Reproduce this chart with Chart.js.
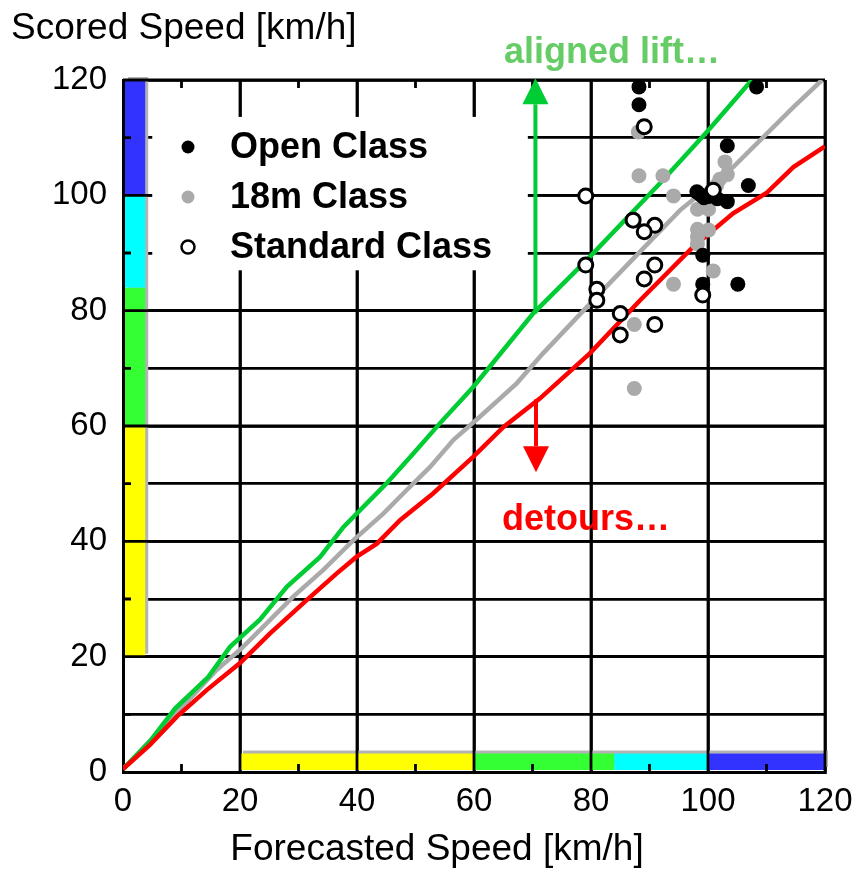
<!DOCTYPE html>
<html>
<head>
<meta charset="utf-8">
<script src="https://cdn.jsdelivr.net/npm/chart.js@4.4.0/dist/chart.umd.min.js"></script>
<style>
  html, body { margin: 0; padding: 0; background: #fff; }
</style>
</head>
<body>
<canvas id="speedChart" width="852" height="869"></canvas>
<script>
// Scatter data (forecasted speed, scored speed)
const openX = [88.2, 88.2, 108.3, 103.3, 106.9, 98.1, 98.7, 99.3, 100.1, 101.6, 103.3, 99.1, 99.1, 105.1];
const openY = [118.8, 115.7, 118.8, 108.6, 101.7, 100.6, 100.1, 99.6, 99.8, 99.4, 98.9, 89.6, 84.6, 84.6];

const m18X = [88.1, 88.2, 92.3, 94.1, 102.9, 103.3, 102.0, 101.5, 98.2, 100.1, 98.2, 100.1, 98.2, 98.2, 100.9, 94.1, 87.4, 87.4];
const m18Y = [111.0, 103.4, 103.4, 99.9, 105.8, 103.6, 102.8, 101.8, 97.6, 97.6, 94.1, 94.0, 92.8, 91.6, 86.9, 84.6, 77.6, 66.5];

const stdX = [89.1, 79.1, 100.9, 87.2, 90.9, 89.1, 79.1, 90.9, 89.1, 81.0, 81.0, 99.1, 85.0, 90.9, 85.0];
const stdY = [111.9, 99.9, 100.9, 95.7, 94.8, 93.7, 87.9, 87.9, 85.5, 83.7, 81.8, 82.7, 79.5, 77.6, 75.8];

// Reference curves
const greenX = [0, 4.6, 8.9, 14.6, 18.3, 23.4, 28, 33.7, 37.7, 45, 49.6, 54.2, 59.9, 70.1, 79.3, 91.8, 99.8, 107.5];
const greenY = [0.5, 5.3, 11, 16.5, 21.7, 26.4, 32.1, 37.3, 42.5, 50, 55.2, 60.5, 66.8, 79.5, 88.8, 102.1, 111, 120];

const grayX = [0, 9.7, 16, 20, 24, 29.1, 34.2, 39.4, 44.5, 48.5, 52.5, 56.5, 61, 67.3, 71.8, 81.5, 95.2, 104.3, 114.6, 119.5];
const grayY = [0.5, 10.8, 17.7, 21.2, 25.2, 30.4, 35, 40.2, 44.8, 48.9, 52.9, 57.6, 61.6, 67.4, 72.6, 83, 97.4, 104.9, 115.3, 120];

const redX = [0, 4.6, 9.2, 14.3, 20, 25.1, 31.4, 36.5, 39.9, 43.4, 47.4, 53, 59.9, 65, 71.3, 79.8, 88.4, 97.5, 104.3, 110, 114.6, 120];
const redY = [0.5, 4.7, 9.6, 14.2, 18.9, 24, 29.8, 34.4, 37.3, 39.6, 43.7, 48.3, 54.7, 59.8, 64.8, 72.6, 81.8, 91.1, 96.9, 100.4, 104.9, 108.5];

// Speed bands along both axes
const bandFrom = [20, 60, 84, 100];
const bandTo = [60, 84, 100, 120];
const bandColors = ["#ffff00", "#33ff33", "#00ffff", "#3333ff"];

const FONT = "'Liberation Sans', Arial, sans-serif";

function pts(xs, ys) {
  return xs.map((v, i) => ({ x: v, y: ys[i] }));
}

function arrow(ctx, x, yFrom, yTip, color) {
  const dir = yTip < yFrom ? 1 : -1;
  const head = 26;
  ctx.strokeStyle = color;
  ctx.fillStyle = color;
  ctx.lineWidth = 4;
  ctx.beginPath();
  ctx.moveTo(x, yFrom);
  ctx.lineTo(x, yTip + dir * head);
  ctx.stroke();
  ctx.beginPath();
  ctx.moveTo(x, yTip);
  ctx.lineTo(x - 13, yTip + dir * head);
  ctx.lineTo(x + 13, yTip + dir * head);
  ctx.closePath();
  ctx.fill();
}

const decorations = {
  id: "decorations",
  beforeDatasetsDraw(chart) {
    const { ctx, chartArea: area, scales: { x, y } } = chart;
    ctx.save();

    // left bar
    const lx0 = x.getPixelForValue(0) + 2;
    const lx1 = x.getPixelForValue(3.8);
    ctx.fillStyle = "#b4b4b4";
    ctx.fillRect(lx0 + 3, y.getPixelForValue(120) - 3, lx1 - lx0, y.getPixelForValue(20) - y.getPixelForValue(120));
    // bottom bar
    const by0 = y.getPixelForValue(3.2);
    const by1 = y.getPixelForValue(0) - 2;
    ctx.fillRect(x.getPixelForValue(20) + 3, by0 - 3, x.getPixelForValue(120) - x.getPixelForValue(20), by1 - by0);

    bandFrom.forEach((from, i) => {
      const to = bandTo[i];
      ctx.fillStyle = bandColors[i];
      ctx.fillRect(lx0, y.getPixelForValue(to), lx1 - lx0, y.getPixelForValue(from) - y.getPixelForValue(to));
      ctx.fillRect(x.getPixelForValue(from), by0, x.getPixelForValue(to) - x.getPixelForValue(from), by1 - by0);
    });

    // major grid lines sit on top of the bars
    ctx.strokeStyle = "#000";
    ctx.lineWidth = 2.8;
    ctx.beginPath();
    for (let v = 20; v <= 120; v += 20) {
      ctx.moveTo(area.left, y.getPixelForValue(v));
      ctx.lineTo(area.right, y.getPixelForValue(v));
      ctx.moveTo(x.getPixelForValue(v), area.top);
      ctx.lineTo(x.getPixelForValue(v), area.bottom);
    }
    // minor ticks
    for (let v = 10; v < 120; v += 20) {
      ctx.moveTo(x.getPixelForValue(v), area.bottom);
      ctx.lineTo(x.getPixelForValue(v), area.bottom - 8);
      ctx.moveTo(x.getPixelForValue(v), area.top);
      ctx.lineTo(x.getPixelForValue(v), area.top + 8);
      ctx.moveTo(area.left, y.getPixelForValue(v));
      ctx.lineTo(area.left + 8, y.getPixelForValue(v));
    }
    ctx.stroke();

    // white legend box
    ctx.fillStyle = "#fff";
    const lbx0 = x.getPixelForValue(5), lbx1 = x.getPixelForValue(69.2);
    const lby0 = y.getPixelForValue(113.6), lby1 = y.getPixelForValue(87);
    ctx.fillRect(lbx0, lby0, lbx1 - lbx0, lby1 - lby0);
    ctx.restore();
  },
  afterDatasetsDraw(chart) {
    const { ctx, chartArea: area, scales: { x, y } } = chart;
    ctx.save();

    // arrows
    arrow(ctx, x.getPixelForValue(70.5), y.getPixelForValue(79.5), y.getPixelForValue(120.3), "#00cc33");
    arrow(ctx, x.getPixelForValue(70.6), y.getPixelForValue(64.6), y.getPixelForValue(52), "#ff0000");

    // legend
    const order = [1, 2, 0];
    order.forEach((di, i) => {
      const ds = chart.data.datasets[di];
      const cy = area.top + 67 + i * 50;
      const cx = area.left + 65;
      ctx.beginPath();
      ctx.arc(cx, cy, 6.5, 0, Math.PI * 2);
      ctx.fillStyle = ds.backgroundColor;
      ctx.fill();
      if (ds.borderWidth) {
        ctx.lineWidth = 2.5;
        ctx.strokeStyle = ds.borderColor;
        ctx.stroke();
      }
      ctx.fillStyle = "#000";
      ctx.font = "bold 36px " + FONT;
      ctx.textAlign = "left";
      ctx.textBaseline = "middle";
      ctx.fillText(ds.label, area.left + 107, cy + 1);
    });

    // annotations
    ctx.font = "bold 36px " + FONT;
    ctx.textAlign = "center";
    ctx.fillStyle = "#66cc66";
    ctx.fillText("aligned lift\u2026", 612, 53);
    ctx.fillStyle = "#ff0000";
    ctx.fillText("detours\u2026", 586, 520);

    // axis titles
    ctx.fillStyle = "#000";
    ctx.font = "37px " + FONT;
    ctx.textAlign = "left";
    ctx.fillText("Scored Speed [km/h]", 11, 29);
    ctx.textAlign = "center";
    ctx.fillText("Forecasted Speed [km/h]", 437, 850);
    ctx.restore();
  }
};

const ctx = document.getElementById("speedChart").getContext("2d");
const speedChart = new Chart(ctx, {
  type: "scatter",
  data: {
    datasets: [
      {
        label: "Standard Class",
        data: pts(stdX, stdY),
        backgroundColor: "#ffffff",
        borderColor: "#000000",
        borderWidth: 3,
        pointRadius: 7,
      },
      {
        label: "Open Class",
        data: pts(openX, openY),
        backgroundColor: "#000000",
        borderWidth: 0,
        pointRadius: 7.5,
      },
      {
        label: "18m Class",
        data: pts(m18X, m18Y),
        backgroundColor: "#aaaaaa",
        borderWidth: 0,
        pointRadius: 7.5,
      },
      {
        label: "detours",
        data: pts(redX, redY),
        showLine: true,
        borderColor: "#ff0000",
        borderWidth: 4.5,
        pointRadius: 0,
      },
      {
        label: "aligned lift",
        data: pts(greenX, greenY),
        showLine: true,
        borderColor: "#00cc33",
        borderWidth: 4.5,
        pointRadius: 0,
      },
      {
        label: "equal",
        data: pts(grayX, grayY),
        showLine: true,
        borderColor: "#aaaaaa",
        borderWidth: 4.5,
        pointRadius: 0,
      },
    ],
  },
  options: {
    responsive: false,
    animation: false,
    layout: { padding: { top: 80, right: 27, left: 0, bottom: 0 } },
    plugins: {
      legend: { display: false },
      tooltip: { enabled: false },
    },
    scales: {
      x: {
        type: "linear",
        min: 0,
        max: 120,
        afterFit: (s) => { s.height = 97; s.paddingRight = 0; s.paddingLeft = 0; },
        ticks: {
          stepSize: 10,
          autoSkip: false,
          maxRotation: 0,
          padding: 10,
          color: "#000",
          font: { size: 33, family: FONT },
          callback: (v) => (v % 20 === 0 ? v : ""),
        },
        grid: {
          drawTicks: false,
          lineWidth: 2.8,
          color: (c) => (c.tick && c.tick.value % 20 === 0 ? "#000" : "rgba(0,0,0,0)"),
        },
        border: { color: "#000", width: 3 },
      },
      y: {
        type: "linear",
        min: 0,
        max: 120,
        afterFit: (s) => { s.width = 123; s.paddingTop = 0; s.paddingBottom = 0; },
        ticks: {
          stepSize: 10,
          autoSkip: false,
          padding: 16,
          color: "#000",
          font: { size: 33, family: FONT },
          callback: (v) => (v % 20 === 0 ? v : ""),
        },
        grid: { drawTicks: false, lineWidth: 2.8, color: "#000" },
        border: { color: "#000", width: 3 },
      },
    },
  },
  plugins: [decorations],
});
</script>
</body>
</html>
